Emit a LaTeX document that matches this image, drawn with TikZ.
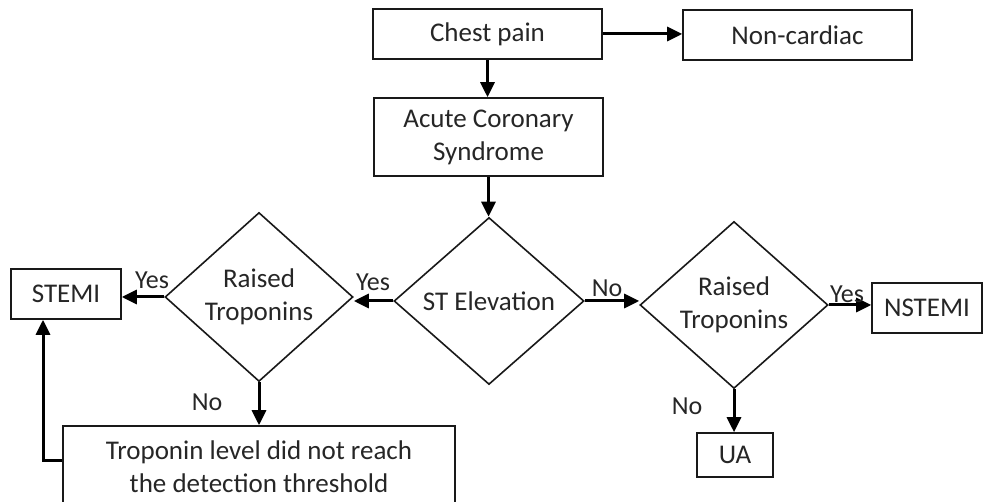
\documentclass[tikz,border=0pt]{standalone}
\usepackage{fontspec}
\setmainfont{Carlito}
\usetikzlibrary{arrows.meta,shapes.geometric}
\begin{document}
\begin{tikzpicture}[x=1pt,y=-1pt,
  every node/.style={font=\fontsize{27}{33}\selectfont, text=black!85},
  box/.style={draw=black!90, line width=1.6pt, rectangle, inner sep=0pt, align=center},
  dec/.style={draw=black!90, line width=1.6pt, diamond, inner sep=0pt, align=center, aspect=1.1},
  flow/.style={draw=black, line width=3pt, -{Triangle[length=15pt,width=14pt]}},
  lbl/.style={inner sep=0pt, font=\fontsize{26}{30}\selectfont}]
\path[use as bounding box, clip] (0,0) rectangle (994,502);
\fill[white] (0,0) rectangle (994,502);
\node[box, minimum width=229pt, minimum height=50pt] (chest) at (487.5,34) {Chest pain};
\node[box, minimum width=229pt, minimum height=50pt] (noncard) at (797.5,35) {Non-cardiac};
\node[box, minimum width=229pt, minimum height=78pt] (acs) at (488.5,137) {Acute Coronary\\Syndrome};
\node[dec, minimum width=190pt, minimum height=167pt] (st) at (489,301) {ST Elevation};
\node[dec, minimum width=188pt, minimum height=169pt] (rt1) at (259,297) {Raised\\Troponins};
\node[dec, minimum width=188pt, minimum height=167pt] (rt2) at (734,305) {Raised\\Troponins};
\node[box, minimum width=110pt, minimum height=50pt] (stemi) at (66,294) {STEMI};
\node[box, minimum width=110pt, minimum height=50pt] (nstemi) at (927,308) {NSTEMI};
\node[box, minimum width=76pt, minimum height=44pt] (ua) at (735,455) {UA};
\node[box, minimum width=392pt, minimum height=81pt] (trop) at (259,466.5) {Troponin level did not reach\\the detection threshold};
\draw[flow] (chest.east) -- (noncard.west |- chest.east);
\draw[flow] (chest.south) -- (chest.south |- acs.north);
\draw[flow] (acs.south) -- (acs.south |- st.north);
\draw[flow] (st.west) -- (rt1.east |- st.west);
\draw[flow] (rt1.west) -- (stemi.east |- rt1.west);
\draw[flow] (st.east) -- (rt2.west |- st.east);
\draw[flow] (rt2.east) -- (nstemi.west |- rt2.east);
\draw[flow] (rt2.south) -- (rt2.south |- ua.north);
\draw[flow] (rt1.south) -- (rt1.south |- trop.north);
\draw[flow] ([yshift=5.5pt]trop.west) -| ([xshift=-23pt]stemi.south);
\node[lbl] (y1) at (373,282) {Yes};
\node[lbl] (y2) at (152,280) {Yes};
\node[lbl] (n1) at (607,288) {No};
\node[lbl] (y3) at (847,294) {Yes};
\node[lbl] (n2) at (207,402) {No};
\node[lbl] (n3) at (687,406) {No};
\end{tikzpicture}
\end{document}
